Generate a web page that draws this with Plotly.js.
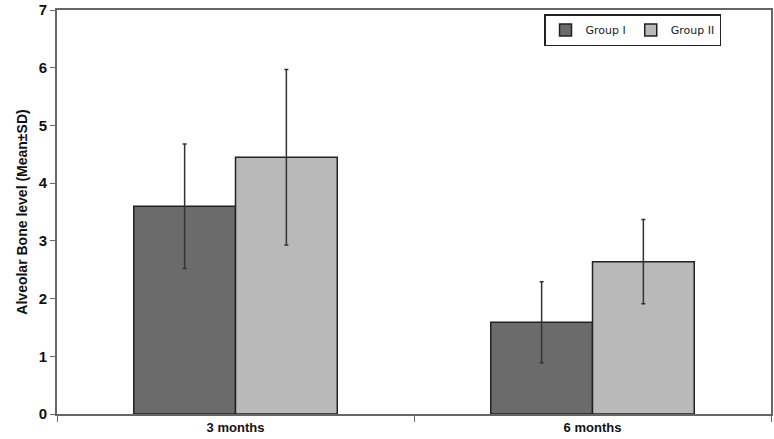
<!DOCTYPE html>
<html>
<head>
<meta charset="utf-8">
<script src="https://cdn.plot.ly/plotly-3.0.1.min.js"></script>
<style>
  html, body { margin: 0; padding: 0; background: #fff; }
  #chart { width: 774px; height: 439px; }
</style>
</head>
<body>
<div id="chart"></div>
<script>
// values
const categories = ["3 months", "6 months"];
const groupNames = ["Group I", "Group II"];
const groupMeans = [
  [3.6, 1.59],
  [4.45, 2.64]
];
const groupSD = [
  [1.08, 0.7],
  [1.52, 0.73]
];
const yTicks = [0, 1, 2, 3, 4, 5, 6, 7];

const fills = ["#6b6b6b", "#b9b9b9"];

let traces = [];
for (let i = 0; i < groupNames.length; i++) {
  traces.push({
    type: "bar",
    name: groupNames[i],
    x: categories,
    y: groupMeans[i],
    marker: { color: fills[i], line: { color: "#222", width: 1.5 } },
    error_y: {
      type: "data",
      array: groupSD[i],
      visible: true,
      color: "#333",
      thickness: 1.5,
      width: 2
    }
  });
}

const layout = {
  width: 774,
  height: 439,
  margin: { l: 57, r: 3, t: 10, b: 25, autoexpand: false },
  paper_bgcolor: "#fff",
  plot_bgcolor: "#fff",
  barmode: "group",
  bargap: 0.43,
  bargroupgap: 0,
  showlegend: true,
  legend: {
    orientation: "h",
    x: 0.93,
    y: 0.99,
    xanchor: "right",
    yanchor: "top",
    bgcolor: "#fff",
    bordercolor: "#222",
    borderwidth: 1.5,
    font: { family: "DejaVu Sans", size: 11, color: "#222" },
    itemwidth: 30,
    tracegroupgap: 0
  },
  xaxis: {
    type: "category",
    showline: true,
    linecolor: "#666",
    linewidth: 2,
    mirror: true,
    ticks: "outside",
    tickson: "boundaries",
    ticklen: 6,
    tickcolor: "#666",
    tickfont: { family: "Liberation Sans", size: 13, color: "#111", weight: "bold" },
    showgrid: false,
    zeroline: false
  },
  yaxis: {
    range: [0, 7],
    tickvals: yTicks,
    ticklabeloverflow: "allow",
    showline: true,
    linecolor: "#666",
    linewidth: 2,
    mirror: true,
    ticks: "outside",
    ticklen: 5,
    tickcolor: "#666",
    tickfont: { family: "Liberation Sans", size: 15, color: "#111", weight: "bold" },
    showgrid: false,
    zeroline: false,
    title: {
      text: "Alveolar Bone level (Mean±SD)",
      font: { family: "Liberation Sans", size: 14, color: "#111", weight: "bold" },
      standoff: 8
    }
  }
};

Plotly.newPlot("chart", traces, layout, { displayModeBar: false, staticPlot: true });
</script>
</body>
</html>
